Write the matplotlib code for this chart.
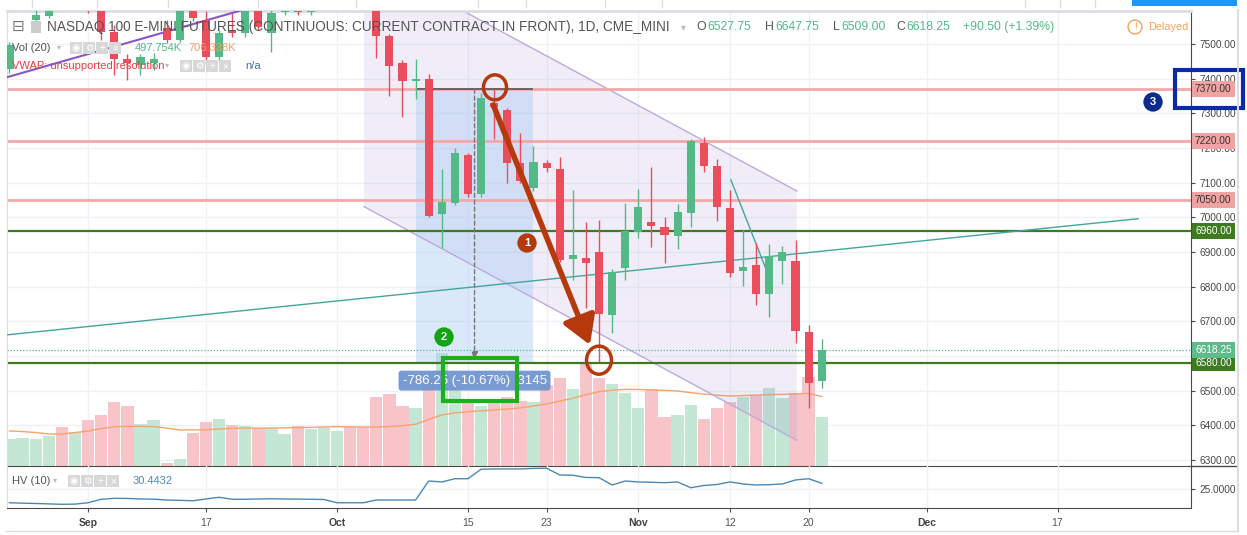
import numpy as np
import matplotlib
matplotlib.use('Agg')
import matplotlib.pyplot as plt
import matplotlib.transforms as mtransforms
from matplotlib.patches import Ellipse, Rectangle, Polygon

# one x unit = one trading day, index 0 = 23 Aug 2018 (half cut at the left edge)
DATE_TICKS = [6, 15, 25, 35, 41, 48, 55, 61, 70, 80]
DATE_LABELS = ['Sep', '17', 'Oct', '15', '23', 'Nov', '12', '20', 'Dec', '17']
MONTHS = {'Sep', 'Oct', 'Nov', 'Dec'}

OPEN = [7427, 7600, 7569, 7582, 7640, 7615, 7640, 7620, 7534, 7458,
        7440, 7445, 7545, 7512, 7610, 7569, 7463, 7540, 7531, 7610,
        7531, 7592, 7598, 7592, 7600, 7630, 7650, 7650, 7610, 7523,
        7444, 7392, 7398, 7010, 7040, 7180, 7067, 7331, 7310, 7156,
        7084, 7156, 7138, 6879, 6884, 6899, 6718, 6855, 6959, 6987,
        6973, 6946, 7012, 7214, 7148, 7026, 6845, 6863, 6779, 6874,
        6875, 6670, 6527.75]
HIGH = [7505, 7640, 7600, 7630, 7660, 7650, 7645, 7630, 7555, 7470,
        7470, 7475, 7569, 7610, 7620, 7595, 7540, 7590, 7610, 7620,
        7600, 7615, 7615, 7615, 7640, 7670, 7660, 7660, 7620, 7530,
        7454, 7456, 7413, 7139, 7199, 7185, 7360, 7369, 7315, 7244,
        7205, 7165, 7175, 7079, 6987, 6992, 6850, 7040, 7081, 7146,
        7000, 7038, 7225, 7233, 7167, 7079, 6963, 6925, 6923, 6917,
        6935, 6690, 6647.75]
LOW = [7415, 7600, 7560, 7575, 7605, 7605, 7590, 7512, 7411, 7396,
       7411, 7425, 7503, 7505, 7565, 7440, 7449, 7520, 7521, 7540,
       7478, 7585, 7585, 7585, 7600, 7605, 7605, 7600, 7459, 7350,
       7290, 7340, 7000, 6911, 7035, 7060, 7060, 7225, 7098, 7100,
       7075, 7130, 6870, 6819, 6738, 6584, 6666, 6819, 6940, 6913,
       6867, 6908, 6973, 7132, 6990, 6827, 6802, 6747, 6713, 6809,
       6637, 6450, 6509]
CLOSE = [7497, 7625, 7584, 7620, 7620, 7640, 7615, 7535, 7456, 7444,
         7463, 7458, 7512, 7600, 7574, 7463, 7531, 7531, 7600, 7550,
         7590, 7598, 7592, 7597, 7630, 7650, 7630, 7610, 7523, 7437,
         7394, 7398, 7004, 7043, 7187, 7067, 7343, 7317, 7156, 7106,
         7160, 7141, 6877, 6891, 6869, 6720, 6843, 6961, 7031, 6975,
         6949, 7015, 7220, 7148, 7029, 6840, 6858, 6779, 6888, 6899,
         6673, 6521, 6618.25]

# volume in thousands of contracts + its 20-bar average
VOLUME = [274, 288, 274, 308, 396, 345, 467, 521, 653, 606,
          423, 467, 27, 71, 339, 450, 477, 413, 403, 383,
          389, 322, 403, 379, 389, 359, 396, 399, 704, 731,
          613, 586, 874, 1145, 789, 640, 610, 671, 704, 664,
          653, 823, 891, 786, 1060, 897, 833, 745, 589, 779,
          501, 515, 620, 474, 586, 653, 704, 721, 789, 688,
          738, 908, 497.754]
VOL_MA = [356, 350, 340, 325, 325, 340, 355, 380, 398, 403,
          403, 400, 385, 366, 366, 368, 376, 383, 385, 385,
          386, 388, 390, 392, 396, 400, 398, 396, 396, 400,
          410, 424, 474, 518, 540, 552, 560, 570, 579, 590,
          610, 630, 660, 688, 725, 755, 770, 779, 778, 772,
          768, 762, 745, 731, 720, 711, 716, 721, 725, 728,
          733, 738, 706.338]

# historical volatility (10)
HV = [11.9, 11.5, 11.2, 10.8, 10.4, 10.6, 11.9, 15.2, 16.1, 16.0,
      15.5, 15.3, 14.5, 14.2, 13.8, 15.5, 17.1, 15.2, 15.2, 15.5,
      15.7, 15.5, 15.4, 15.2, 15.0, 11.9, 11.9, 11.9, 14.5, 14.5,
      14.5, 14.5, 32.6, 31.7, 34.8, 34.8, 43.8, 44.1, 44.1, 44.1,
      44.6, 44.8, 38.4, 38.1, 36.0, 35.8, 28.8, 32.6, 31.7, 31.4,
      31.0, 31.7, 26.2, 28.3, 29.3, 31.7, 29.8, 28.8, 29.1, 29.8,
      33.6, 34.8, 30.4432]

# horizontal levels drawn by the author
RED_LEVELS = [7370, 7220, 7050]
GREEN_LEVELS = [6960, 6580]
LAST_PRICE = 6618.25
PRICE_TICKS = list(range(6300, 7600, 100))

# drawings (bar index / price)
CHANNEL_X = [27.06, 60.1]
CHANNEL_TOP = [7750, 7076]
CHANNEL_BOT = [7031, 6357]
TREND_X, TREND_P = [-0.19, 86.15], [6661, 6996]
UPTREND_X, UPTREND_P = [-0.21, 20], [7404, 7622]
SHORT_X, SHORT_P = [55.07, 57.72], [7108, 6853]
RANGE_X = [31, 40]
RANGE_P = [6583.75, 7370]

PAL = {
    'up': '#53B987', 'down': '#EB4D5C', 'vup': '#C4E6D5', 'vdown': '#F7C4C9',
    'grid': '#EEF1F5', 'axis': '#4A4A4A', 'text': '#555555', 'frame': '#DADDE3',
    'pink': '#F4A9A9', 'dgreen': '#3E7B20', 'brown': '#B5390C',
    'lav': '#8C7BCB', 'lavline': '#BBAADF', 'teal': '#45A59E',
    'orange': '#F5A46B', 'hv': '#4F87B4',
}

W, H = 1247, 535
plt.rcParams['font.family'] = ['Liberation Sans', 'DejaVu Sans']


def fx(px):
    return px / W


def fy(py):
    return 1 - py / H


fig = plt.figure(figsize=(W / 100, H / 100), dpi=100, facecolor='white')
ax = fig.add_axes([fx(7), fy(466), 1184 / W, 455 / H])
hv_ax = fig.add_axes([fx(7), fy(508), 1184 / W, 42 / H], sharex=ax)

XLIM = (-0.19, 90.19)
PRICE_LIM = (6282.7, 7595.2)
VOL_TOP = 4623
HV_LIM = (6.9, 46.9)

x = np.arange(len(OPEN))
o, h, l, c = map(np.array, (OPEN, HIGH, LOW, CLOSE))
up = c >= o

# grid
for p in PRICE_TICKS:
    ax.axhline(p, color=PAL['grid'], lw=1, zorder=0)
for t in DATE_TICKS:
    ax.axvline(t, color=PAL['grid'], lw=1, zorder=0)
    hv_ax.axvline(t, color=PAL['grid'], lw=1, zorder=0)
hv_ax.axhline(25, color=PAL['grid'], lw=1, zorder=0)

# volume overlay, scaled to the pane height
vol_tr = mtransforms.blended_transform_factory(
    ax.transData, mtransforms.Affine2D().scale(1, 1 / VOL_TOP) + ax.transAxes)
ax.bar(x, VOLUME, width=0.94, color=np.where(up, PAL['vup'], PAL['vdown']),
       lw=0, transform=vol_tr, zorder=1)
ax.plot(x, VOL_MA, color=PAL['orange'], lw=1, transform=vol_tr, zorder=1.5)

# channel + price range
ax.add_patch(Polygon([(CHANNEL_X[0], CHANNEL_TOP[0]), (CHANNEL_X[1], CHANNEL_TOP[1]),
                      (CHANNEL_X[1], CHANNEL_BOT[1]), (CHANNEL_X[0], CHANNEL_BOT[0])],
                     closed=True, fc=PAL['lav'], alpha=0.13, lw=0, zorder=2))
ax.plot(CHANNEL_X, CHANNEL_TOP, color=PAL['lavline'], lw=1, zorder=2.2)
ax.plot(CHANNEL_X, CHANNEL_BOT, color=PAL['lavline'], lw=1, zorder=2.2)
ax.fill_between(RANGE_X, RANGE_P[0], RANGE_P[1], color='#A9CBF2', alpha=0.42, lw=0, zorder=2.1)

# levels
for p in RED_LEVELS:
    ax.axhline(p, color=PAL['pink'], lw=2, zorder=2.5)
for p in GREEN_LEVELS:
    ax.axhline(p, color=PAL['dgreen'], lw=1.6, zorder=2.5)
ax.axhline(LAST_PRICE, color=PAL['up'], lw=0.9, ls=(0, (1, 1.5)), zorder=2.5)

ax.hlines(RANGE_P[1], RANGE_X[0], RANGE_X[1], color='#555555', lw=1.2, zorder=3)
mid = (RANGE_X[0] + RANGE_X[1]) / 2
ax.annotate('', xy=(mid, RANGE_P[0] + 8), xytext=(mid, RANGE_P[1]),
            arrowprops=dict(arrowstyle='-|>,head_length=0.4,head_width=0.2', color='#777777',
                            lw=1, ls=(0, (3, 2)), shrinkA=0, shrinkB=0), zorder=3)

# trend lines
ax.plot(TREND_X, TREND_P, color=PAL['teal'], lw=1, zorder=3)
ax.plot(UPTREND_X, UPTREND_P, color='#8A55C9', lw=1.5, zorder=3)
ax.plot(SHORT_X, SHORT_P, color=PAL['teal'], lw=1, zorder=3)

# candles
col = np.where(up, PAL['up'], PAL['down'])
ax.vlines(x, l, h, colors=col, lw=1, zorder=4)
body_h = np.maximum(np.abs(c - o), 5)
ax.bar(x, body_h, bottom=np.minimum(o, c), width=0.62, color=col, lw=0, zorder=4.5)

# annotations of the author
ax.annotate('', xy=(44.31, 6632), xytext=(36.93, 7324),
            arrowprops=dict(arrowstyle='-|>,head_length=1.0,head_width=0.6', color=PAL['brown'],
                            lw=4, mutation_scale=17, shrinkA=0, shrinkB=0), zorder=6)
ax.add_patch(Ellipse((37.06, 7375), 1.76, 72, fill=False, ec=PAL['brown'], lw=2.5, zorder=6))
ax.add_patch(Ellipse((45.0, 6588), 1.9, 81, fill=False, ec=PAL['brown'], lw=2.5, zorder=6))
ax.text(mid, 6529, '-786.25 (-10.67%)  3145', ha='center', va='center', fontsize=9.5,
        color='white', zorder=6,
        bbox=dict(boxstyle='round,pad=0.3,rounding_size=0.2', fc='#6E93CF', ec='none', alpha=0.92))
ax.add_patch(Rectangle((33.07, 6471), 5.69, 124, fill=False, ec='#1DB01D', lw=3, zorder=7))

ax.set_xlim(*XLIM)
ax.set_ylim(*PRICE_LIM)
hv_ax.set_ylim(*HV_LIM)

# HV pane
hv_ax.plot(x, HV, color=PAL['hv'], lw=1, zorder=3)

# axes styling
for a in (ax, hv_ax):
    a.set_facecolor('none')
    a.yaxis.tick_right()
    a.tick_params(axis='y', length=3, pad=3, labelsize=7.3, colors=PAL['axis'])
    a.spines['left'].set_color(PAL['frame'])
    a.spines['right'].set_color(PAL['axis'])
    a.spines['bottom'].set_color(PAL['axis'])
ax.spines['top'].set_color(PAL['frame'])
ax.spines['top'].set_linewidth(2)
hv_ax.spines['top'].set_visible(False)
ax.set_yticks(PRICE_TICKS)
# 6600 sits fully under the last-price tag, so its label is not drawn
ax.set_yticklabels(['' if p == 6600 else f'{p:.2f}' for p in PRICE_TICKS])
ax.tick_params(axis='x', bottom=False, labelbottom=False)
hv_ax.set_yticks([25])
hv_ax.set_yticklabels(['25.0000'])
hv_ax.set_xticks(DATE_TICKS)
hv_ax.set_xticklabels(DATE_LABELS)
hv_ax.tick_params(axis='x', length=3, pad=4, labelsize=7.5, colors=PAL['text'])
for lab in hv_ax.get_xticklabels():
    if lab.get_text() in MONTHS:
        lab.set_fontweight('bold')
        lab.set_color('#444444')


# price labels on the right axis
def price_tag(p, fc, tc):
    ax.text(1.0 + 4 / 1184, p, f'{p:.2f}', transform=ax.get_yaxis_transform(),
            ha='left', va='center', fontsize=7.3, color=tc, clip_on=False, zorder=10,
            bbox=dict(boxstyle='square,pad=0.3', fc=fc, ec='none'))


for p in RED_LEVELS:
    price_tag(p, '#F0A3A3', '#333333')
for p in GREEN_LEVELS:
    price_tag(p, PAL['dgreen'], 'white')
price_tag(LAST_PRICE, '#5DBB8C', 'white')

# frame bits outside the panes
fig.add_artist(plt.Line2D([fx(1191), fx(1237)], [fy(466), fy(466)], color=PAL['axis'], lw=1))
fig.add_artist(plt.Line2D([fx(1238), fx(1238)], [fy(10), fy(530)], color=PAL['frame'], lw=1.5))
fig.add_artist(plt.Line2D([fx(6), fx(1238)], [fy(531), fy(531)], color=PAL['frame'], lw=1))
for sx in [32, 97, 168, 258, 356, 478, 526, 605, 662, 1025, 1060, 1095]:
    fig.add_artist(plt.Line2D([fx(sx), fx(sx)], [fy(0), fy(7)], color=PAL['frame'], lw=1))
fig.add_artist(Rectangle((fx(1132), fy(6)), 105 / W, 6 / H, transform=fig.transFigure,
                         fc='#2196F3', ec='none'))


# legend rows
def icons(x0, yc):
    for k, g in enumerate(['◉', '⚙', '+', '×']):
        fig.add_artist(Rectangle((fx(x0 + 13 * k), fy(yc + 6)), 12 / W, 12 / H,
                                 transform=fig.transFigure, fc='#D8D8D8', ec='none'))
        fig.text(fx(x0 + 13 * k + 6), fy(yc), g, ha='center', va='center',
                 fontsize=7, color='white')


fig.text(fx(12), fy(27), '⊟', fontsize=11, color='#777777', va='center')
fig.add_artist(Rectangle((fx(31), fy(33)), 10 / W, 12 / H, transform=fig.transFigure,
                         fc='#CCCCCC', ec='none'))
fig.text(fx(47), fy(27), 'NASDAQ 100 E-MINI FUTURES (CONTINUOUS: CURRENT CONTRACT IN FRONT), 1D, CME_MINI',
         fontsize=9.8, color=PAL['text'], va='center')
fig.text(fx(681), fy(27), '▾', fontsize=7, color='#BBBBBB', va='center')
for lx, letter, vx, val in [(696, 'O', 707, '6527.75'), (765, 'H', 775, '6647.75'),
                            (833, 'L', 841, '6509.00'), (896, 'C', 906, '6618.25')]:
    fig.text(fx(lx), fy(27), letter, fontsize=8.8, color=PAL['text'], va='center')
    fig.text(fx(vx), fy(27), val, fontsize=8.8, color=PAL['up'], va='center')
fig.text(fx(963), fy(27), '+90.50 (+1.39%)', fontsize=8.8, color=PAL['up'], va='center')
fig.text(fx(1135), fy(27), '!', fontsize=7, color='#F5A35C', va='center', ha='center',
         bbox=dict(boxstyle='circle,pad=0.2', fc='white', ec='#F5A35C', lw=1))
fig.text(fx(1148), fy(27), 'Delayed', fontsize=7.8, color='#F5A35C', va='center')

fig.text(fx(12), fy(48), 'Vol (20)', fontsize=8, color=PAL['text'], va='center')
fig.text(fx(57), fy(48), '▾', fontsize=6, color='#BBBBBB', va='center')
icons(70, 48)
fig.text(fx(135), fy(48), '497.754K', fontsize=8, color=PAL['up'], va='center')
fig.text(fx(188), fy(48), '706.338K', fontsize=8, color='#F5A060', va='center')

fig.text(fx(12), fy(66), 'VWAP: unsupported resolution', fontsize=8, color='#E8403F', va='center')
fig.text(fx(165), fy(66), '▾', fontsize=6, color='#BBBBBB', va='center')
icons(180, 66)
fig.text(fx(245), fy(66), 'n/a', fontsize=8, color='#3F6FB5', va='center')

fig.text(fx(12), fy(481), 'HV (10)', fontsize=8, color=PAL['text'], va='center')
fig.text(fx(53), fy(481), '▾', fontsize=6, color='#BBBBBB', va='center')
icons(68, 481)
fig.text(fx(133), fy(481), '30.4432', fontsize=8, color=PAL['hv'], va='center')


# numbered markers + blue box on the axis
def badge(px, py, s, fc):
    fig.text(fx(px), fy(py), s, ha='center', va='center', fontsize=8, fontweight='bold',
             color='white', bbox=dict(boxstyle='circle,pad=0.42', fc=fc, ec='none'))


badge(527, 243, '1', PAL['brown'])
badge(444, 337, '2', '#12A512')
badge(1153, 102, '3', '#0C2B8E')
fig.add_artist(Rectangle((fx(1175), fy(108)), 68 / W, 38 / H, transform=fig.transFigure,
                         fill=False, ec='#0B2BA6', lw=3))

fig.savefig('out.png', dpi=100, facecolor='white')
